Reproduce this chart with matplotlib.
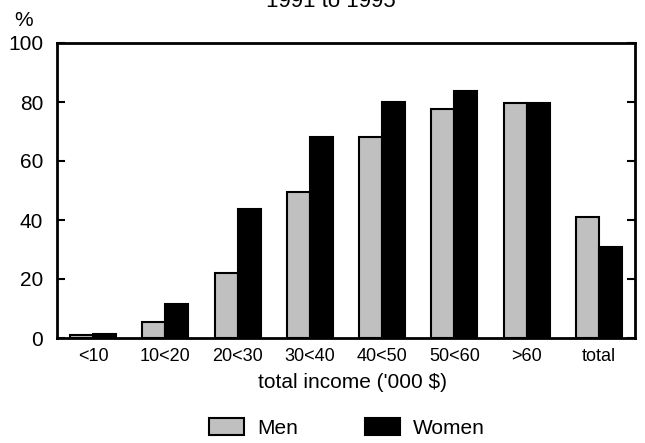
import matplotlib
matplotlib.use("Agg")
import matplotlib.pyplot as plt
import numpy as np

plt.rcParams["font.family"] = ["Liberation Sans", "DejaVu Sans"]

categories = ["<10", "10<20", "20<30", "30<40", "40<50", "50<60", ">60", "total"]
men = [0.9, 5.5, 22.1, 49.6, 68.0, 77.7, 79.7, 41.0]
women = [1.4, 11.4, 43.8, 68.0, 80.1, 83.6, 79.6, 31.0]

fig = plt.figure(figsize=(6.45, 4.43), dpi=100)
ax = fig.add_axes([57 / 645, 1 - 338 / 443, 578 / 645, 295 / 443])

x = np.arange(len(categories))
w = 0.32
ax.bar(x - w / 2, men, w, color="#c0c0c0", edgecolor="black", linewidth=1.5, label="Men")
ax.bar(x + w / 2, women, w, color="black", edgecolor="black", linewidth=1.5, label="Women")

ax.set_xlim(-0.5, len(categories) - 0.5)
ax.set_ylim(0, 100)
ax.set_yticks([0, 20, 40, 60, 80, 100])
ax.set_xticks(x)
ax.set_xticklabels(categories, fontsize=13)
ax.tick_params(axis="x", length=0, pad=7)
ax.tick_params(axis="y", direction="in", length=6, width=1.5, right=True, labelsize=15, pad=10)
for s in ax.spines.values():
    s.set_linewidth(2)

fig.text(353 / 645, 1 - 383 / 443, "total income ('000 $)", fontsize=15, ha="center", va="center")
fig.text(24 / 645, 1 - 20 / 443, "%", fontsize=15, ha="center", va="center")
fig.text(331 / 645, 1 - 7 / 443, "1991 to 1995", fontsize=16, ha="center", va="baseline")

fig.legend(loc="center", bbox_to_anchor=(347 / 645, 1 - 428 / 443), ncol=2, frameon=False,
           fontsize=15, handlelength=1.68, handleheight=0.9, handletextpad=0.62,
           columnspacing=3.2)

fig.savefig("out.png", dpi=100)
